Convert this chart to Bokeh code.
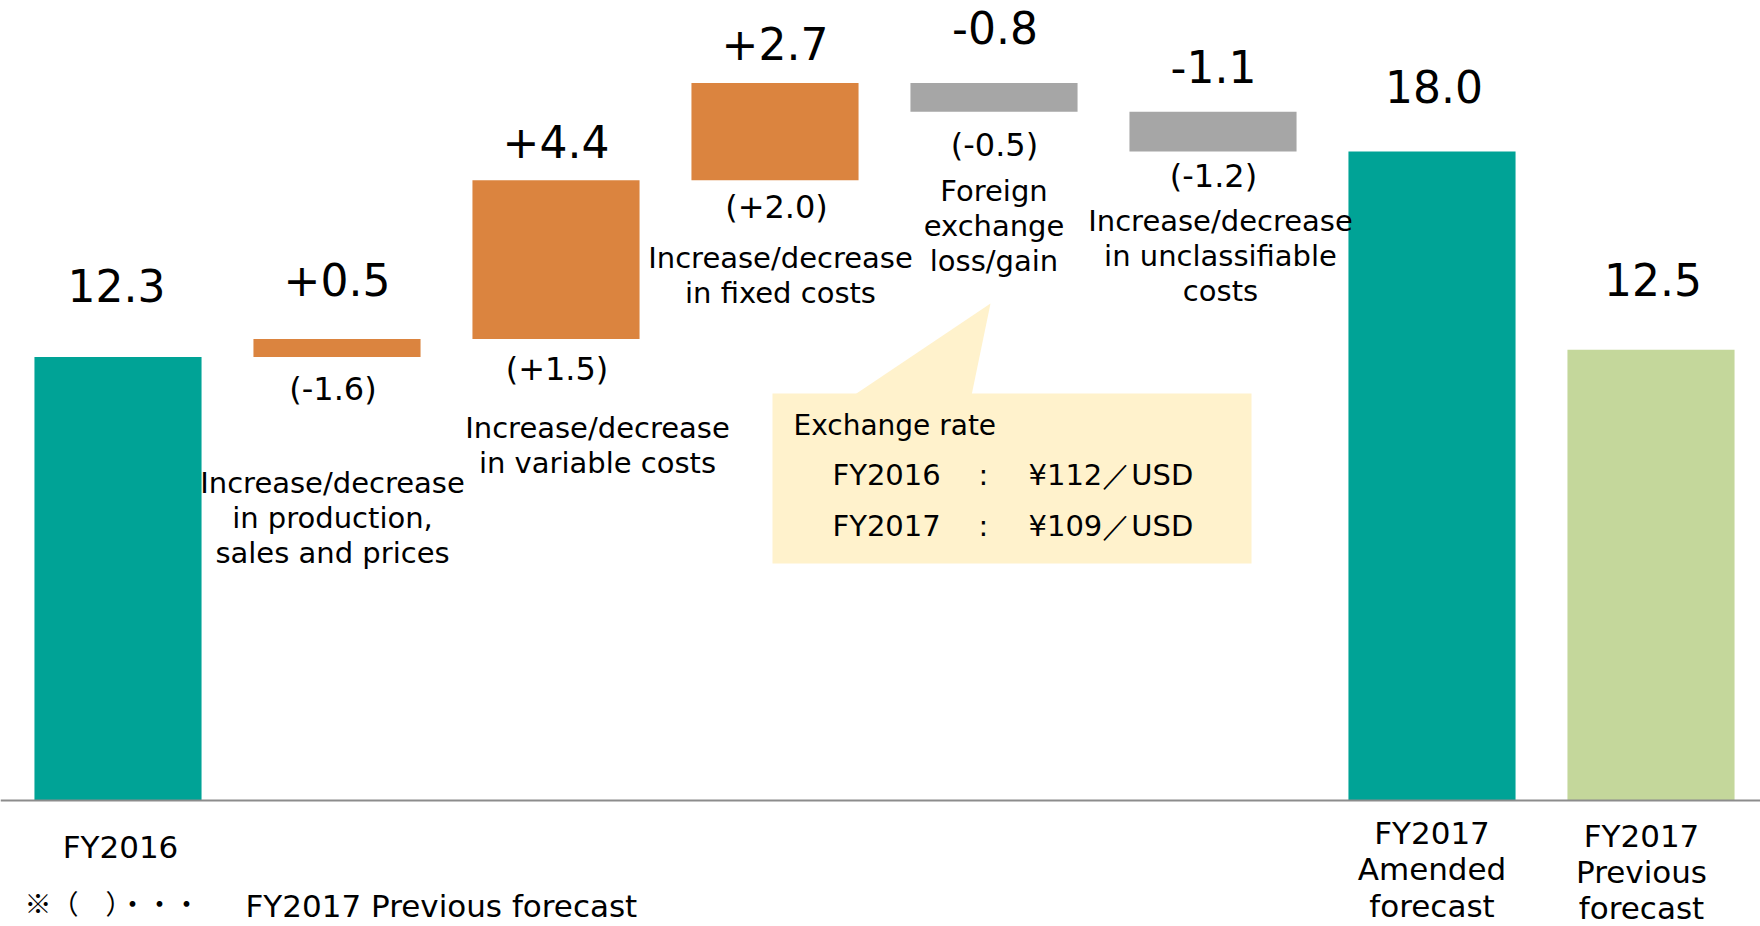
import numpy as np
from bokeh.plotting import figure
from bokeh.models import Span, Range1d
from bokeh.embed import file_html
from bokeh.resources import INLINE
from bokeh.core.properties import value

# ---------------- data ----------------
start_label = "FY2016"
start_value = 12.3
change_values = [0.5, 4.4, 2.7, -0.8, -1.1]
change_prev_forecast = [-1.6, 1.5, 2.0, -0.5, -1.2]
change_names = [
    "Increase/decrease\nin production,\nsales and prices",
    "Increase/decrease\nin variable costs",
    "Increase/decrease\nin fixed costs",
    "Foreign\nexchange\nloss/gain",
    "Increase/decrease\nin unclassifiable\ncosts",
]
end_labels = ["FY2017\nAmended\nforecast", "FY2017\nPrevious\nforecast"]
end_values = [18.0, 12.5]
exchange_title = "Exchange rate"
exchange_years = ["FY2016", "FY2017"]
exchange_rates = ["¥112／USD", "¥109／USD"]
footnote_mark = "※（　）・・・"
footnote_text = "FY2017 Previous forecast"

# ---------------- styles / layout ----------------
FONT = value("DejaVu Sans")
TEAL = "#00A396"
GREEN = "#C4D79B"
ORANGE = "#DB843F"
GREY = "#A6A6A6"
CALLOUT = "#FFF2CC"

W, H = 1760, 926
PX_CAT = 219.0          # px per category
PX_UNIT = 36.06         # px per value unit
BASE = 800.0            # baseline distance from top of frame (px)
BAR_W = 0.763

x_start = -117.5 / PX_CAT
x_end = x_start + W / PX_CAT
y_top = BASE / PX_UNIT
y_bot = -(H - BASE) / PX_UNIT


def dx(px):  # frame px -> data x
    return px / PX_CAT + x_start


def dy(py):  # frame px -> data y
    return (BASE - py) / PX_UNIT


def mid(size):  # distance from alphabetic baseline to text middle
    return 0.35 * size


p = figure(width=W, height=H, x_range=Range1d(x_start, x_end), y_range=Range1d(y_bot, y_top),
           output_backend="svg", toolbar_location=None, min_border=0,
           x_axis_location=None, y_axis_location=None)
p.grid.visible = False
p.outline_line_color = None
p.background_fill_color = "white"
p.border_fill_color = "white"

# ---------------- bars ----------------
n_ch = len(change_values)
levels = start_value + np.cumsum(change_values)
prev_levels = np.concatenate([[start_value], levels[:-1]])
ch_x = np.arange(1, n_ch + 1)
ch_bottom = np.minimum(prev_levels, levels)
ch_top = np.maximum(prev_levels, levels)
ch_color = [ORANGE if v > 0 else GREY for v in change_values]

tot_x = [0, n_ch + 1, n_ch + 2]
tot_top = [start_value] + end_values
tot_color = [TEAL, TEAL, GREEN]

p.vbar(x=tot_x, top=tot_top, bottom=0, width=BAR_W, fill_color=tot_color, line_color=None)
p.vbar(x=ch_x, top=ch_top, bottom=ch_bottom, width=BAR_W, fill_color=ch_color, line_color=None)

p.add_layout(Span(location=0, dimension="width", line_color="#8C8C8C", line_width=2))

# ---------------- value labels ----------------
VS = 44
val_x = [0] + list(ch_x) + [n_ch + 1, n_ch + 2]
val_top = [start_value] + list(ch_top) + end_values
val_text = [f"{start_value:.1f}"] + [f"{v:+.1f}" for v in change_values] + [f"{v:.1f}" for v in end_values]
val_gap = [-56, -44, -23, -24, -40, -30, -50, -55]
val_dx = [-1.5, 0, 0, 0, 1, 0.5, 2, 2]
p.text(x=val_x, y=val_top, text=val_text, y_offset=[g - mid(VS) for g in val_gap], x_offset=val_dx,
       text_align="center", text_baseline="middle",
       text_font=FONT, text_font_size=f"{VS}px", text_color="#000000")

# ---------------- previous-forecast labels ----------------
PS = 32
prev_text = [f"({v:+.1f})" for v in change_prev_forecast]
prev_gap = [43, 41, 38, 44, 36]
prev_dx = [-4, 1, 1.5, 0.5, 0.5]
p.text(x=ch_x, y=ch_bottom, text=prev_text, y_offset=[g - mid(PS) for g in prev_gap], x_offset=prev_dx,
       text_align="center", text_baseline="middle",
       text_font=FONT, text_font_size=f"{PS}px", text_color="#000000")

# ---------------- change descriptions ----------------
DS = 29
desc_first = [136, 99, 88, 89, 80]
desc_dx = [-4.5, 41.5, 5.5, 0, 7.5]
LINE = 35
dxs, dys, dts, dyo, dxo = [], [], [], [], []
for i, name in enumerate(change_names):
    for j, line in enumerate(name.split("\n")):
        dxs.append(ch_x[i]); dys.append(ch_bottom[i]); dts.append(line)
        dyo.append(desc_first[i] + j * LINE - mid(DS)); dxo.append(desc_dx[i])
p.text(x=dxs, y=dys, text=dts, y_offset=dyo, x_offset=dxo,
       text_align="center", text_baseline="middle",
       text_font=FONT, text_font_size=f"{DS}px", text_color="#000000")

# ---------------- category labels ----------------
CS = 31
cat_labels = [start_label] + end_labels
cat_first = [57, 43, 46]
cat_line = [36.5, 36.5, 36]
cat_dx = [2.5, 0, -9.5]
cxs, cts, cyo, cxo = [], [], [], []
for i, lab in enumerate(cat_labels):
    for j, line in enumerate(lab.split("\n")):
        cxs.append(tot_x[i]); cts.append(line)
        cyo.append(cat_first[i] + j * cat_line[i] - mid(CS)); cxo.append(cat_dx[i])
p.text(x=cxs, y=[0] * len(cxs), text=cts, y_offset=cyo, x_offset=cxo,
       text_align="center", text_baseline="middle",
       text_font=FONT, text_font_size=f"{CS}px", text_color="#000000")

# ---------------- exchange-rate callout ----------------
p.patch(x=[dx(853), dx(971), dx(990)], y=[dy(395), dy(395), dy(303)],
        fill_color=CALLOUT, line_color=None)
p.quad(left=dx(772), right=dx(1251), top=dy(393), bottom=dy(563),
       fill_color=CALLOUT, line_color=None)
TS, RS = 28, 29
p.text(x=[dx(793)], y=[dy(435 - mid(TS))], text=[exchange_title], text_align="left",
       text_baseline="middle", text_font=FONT, text_font_size=f"{TS}px", text_color="#000000")
row_y = [dy(485 - mid(RS)), dy(536 - mid(RS))]
p.text(x=[dx(832)] * 2, y=row_y, text=exchange_years, text_align="left",
       text_baseline="middle", text_font=FONT, text_font_size=f"{RS}px", text_color="#000000")
p.text(x=[dx(983)] * 2, y=row_y, text=[":"] * 2, text_align="center",
       text_baseline="middle", text_font=FONT, text_font_size=f"{RS}px", text_color="#000000")
p.text(x=[dx(1028)] * 2, y=row_y, text=exchange_rates, text_align="left",
       text_baseline="middle", text_font=FONT, text_font_size=f"{RS}px", text_color="#000000")

# ---------------- footnote ----------------
FS = 31
MS = 27
p.text(x=[dx(24)], y=[dy(902)], text=[footnote_mark], text_align="left",
       text_baseline="middle", text_font=value("Noto Sans CJK JP"), text_font_size=f"{MS}px",
       text_color="#000000")
p.text(x=[dx(245)], y=[dy(916 - mid(FS))], text=[footnote_text], text_align="left",
       text_baseline="middle", text_font=FONT, text_font_size=f"{FS}px", text_color="#000000")

open("out.html", "w").write(file_html(p, INLINE))
